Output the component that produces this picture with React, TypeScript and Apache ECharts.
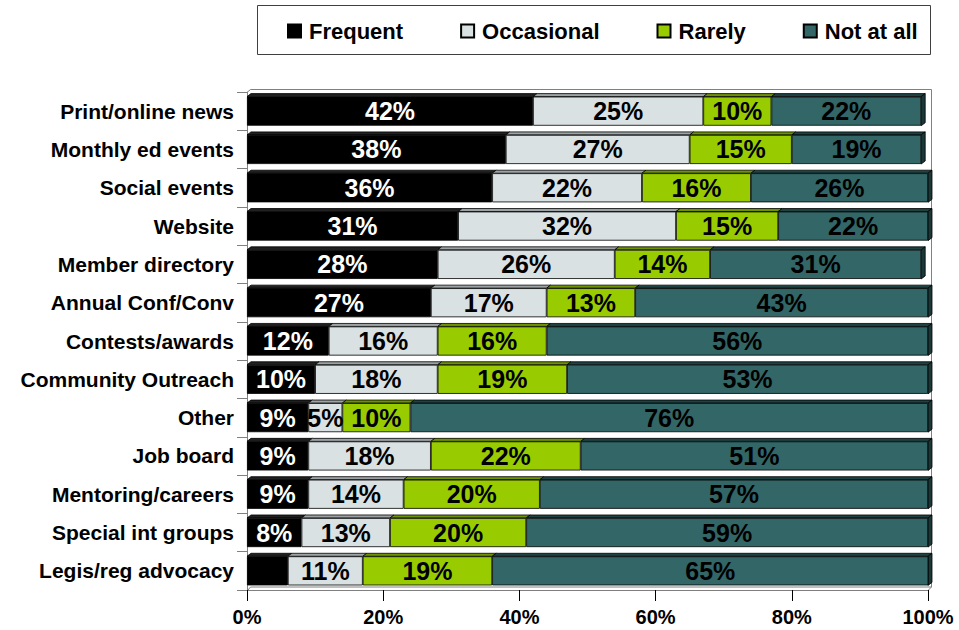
import React, { useEffect, useRef } from "react";
import * as echarts from "echarts";

const categories = [
  "Print/online news",
  "Monthly ed events",
  "Social events",
  "Website",
  "Member directory",
  "Annual Conf/Conv",
  "Contests/awards",
  "Community Outreach",
  "Other",
  "Job board",
  "Mentoring/careers",
  "Special int groups",
  "Legis/reg advocacy",
];
const frequent = [42, 38, 36, 31, 28, 27, 12, 10, 9, 9, 9, 8, 6];
const occasional = [25, 27, 22, 32, 26, 17, 16, 18, 5, 18, 14, 13, 11];
const rarely = [10, 15, 16, 15, 14, 13, 16, 19, 10, 22, 20, 20, 19];
const notAtAll = [22, 19, 26, 22, 31, 43, 56, 53, 76, 51, 57, 59, 65];
const seriesNames = ["Frequent", "Occasional", "Rarely", "Not at all"];
// [series index, category index] of segments that carry no value label
const unlabelled = [[0, 12]];
const xMin = 0;
const xMax = 100;
const xStep = 20;

const FONT = "Liberation Sans, Arial, sans-serif";
const frontColors = ["#000000", "#D9E1E3", "#99CC00", "#336666"];
const topColors = ["#202020", "#9DA3A5", "#6E9300", "#1E4343"];
const sideColor = "#1B3838";
const labelColors = ["#FFFFFF", "#000000", "#000000", "#000000"];
const BAR_RATIO = 0.76;
const DX = 4;
const DY = 3;

export default function App() {
  const ref = useRef<HTMLDivElement>(null);

  useEffect(() => {
    if (!ref.current) return;
    const chart = echarts.init(ref.current, undefined, { renderer: "svg" });
    const allValues = [frequent, occasional, rarely, notAtAll];

    const barSeries = allValues.map((vals, si) => ({
      name: seriesNames[si],
      type: "bar",
      stack: "total",
      barWidth: BAR_RATIO * 100 + "%",
      z: 3,
      itemStyle: { color: frontColors[si], borderColor: "#000", borderWidth: 0.8 },
      label: {
        show: true,
        position: "inside",
        formatter: "{c}%",
        fontFamily: FONT,
        fontWeight: "bold",
        fontSize: 25,
        color: labelColors[si],
      },
      data: vals.map((v, ci) =>
        unlabelled.some(([s, c]) => s === si && c === ci)
          ? { value: v, label: { show: false } }
          : v
      ),
    }));

    const depthSeries = {
      name: "depth",
      type: "custom",
      silent: true,
      z: 2,
      encode: { y: 0, x: 1 },
      data: categories.map((_, i) => [i, frequent[i], occasional[i], rarely[i], notAtAll[i]]),
      renderItem: (params: any, api: any) => {
        const cat = api.value(0);
        const vals = [api.value(1), api.value(2), api.value(3), api.value(4)];
        const band = api.size([0, 1])[1];
        const h = band * BAR_RATIO;
        const yc = api.coord([0, cat])[1];
        const yTop = yc - h / 2;
        const yBot = yc + h / 2;
        const children: any[] = [];
        let cum = 0;
        let lastX = 0;
        for (let i = 0; i < 4; i++) {
          const s = Math.min(cum, xMax);
          const e = Math.min(cum + vals[i], xMax);
          cum += vals[i];
          const x0 = api.coord([s, cat])[0];
          const x1 = api.coord([e, cat])[0];
          if (x1 > x0) {
            children.push({
              type: "polygon",
              shape: { points: [[x0, yTop], [x1, yTop], [x1 + DX, yTop - DY], [x0 + DX, yTop - DY]] },
              style: { fill: topColors[i], stroke: "#000", lineWidth: 0.8 },
            });
          }
          lastX = x1;
        }
        children.push({
          type: "polygon",
          shape: { points: [[lastX, yTop], [lastX + DX, yTop - DY], [lastX + DX, yBot - DY], [lastX, yBot]] },
          style: { fill: sideColor, stroke: "#000", lineWidth: 0.8 },
        });
        return { type: "group", children };
      },
    };

    chart.setOption({
      animation: false,
      backgroundColor: "#ffffff",
      grid: { left: 247, right: 31, top: 92, bottom: 40, containLabel: false },
      legend: {
        data: seriesNames,
        left: 287,
        top: 20,
        padding: 0,
        icon: "rect",
        itemWidth: 13,
        itemHeight: 13,
        itemGap: 57,
        textStyle: {
          fontFamily: FONT,
          fontWeight: "bold",
          fontSize: 22,
          color: "#000",
          padding: [0, 0, 0, 3],
        },
      },
      xAxis: {
        type: "value",
        min: xMin,
        max: xMax,
        interval: xStep,
        axisLine: { show: true, lineStyle: { color: "#808080", width: 1 } },
        axisTick: { show: true, length: 11, lineStyle: { color: "#000", width: 1 } },
        splitLine: { show: false },
        axisLabel: {
          formatter: "{value}%",
          fontFamily: FONT,
          fontWeight: "bold",
          fontSize: 20,
          color: "#000",
          margin: 17,
        },
      },
      yAxis: {
        type: "category",
        inverse: true,
        data: categories,
        axisLine: { show: true, lineStyle: { color: "#808080", width: 1 } },
        axisTick: { show: true, length: 10, lineStyle: { color: "#808080", width: 1 } },
        axisLabel: {
          fontFamily: FONT,
          fontWeight: "bold",
          fontSize: 21,
          color: "#000",
          margin: 13,
        },
      },
      graphic: [
        {
          type: "rect",
          z: 0,
          shape: { x: 257.5, y: 5.5, width: 673, height: 49 },
          style: { fill: "none", stroke: "#404040", lineWidth: 1 },
        },
        {
          type: "polyline",
          z: 0,
          shape: { points: [[247.5, 92], [250.5, 89.5], [931.5, 89.5], [931.5, 587]] },
          style: { fill: "none", stroke: "#808080", lineWidth: 1 },
        },
        {
          type: "polygon",
          z: 0,
          shape: { points: [[247.5, 590.5], [928, 590.5], [931.5, 587], [250.5, 587]] },
          style: { fill: "#ffffff", stroke: "#808080", lineWidth: 1 },
        },
      ],
      series: [...barSeries, depthSeries],
    });

    return () => chart.dispose();
  }, []);

  return (
    <div
      ref={ref}
      style={{ position: "fixed", left: 0, top: 0, width: 959, height: 630, background: "#fff" }}
    />
  );
}
